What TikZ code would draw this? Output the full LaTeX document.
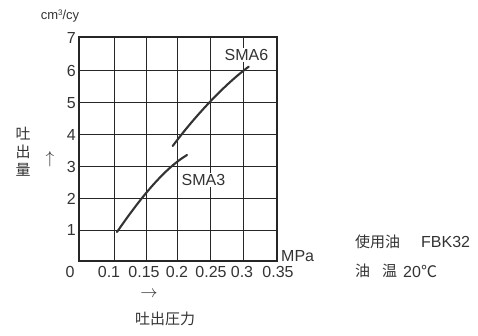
\documentclass[tikz,border=0pt]{standalone}
\usepackage{fontspec}
\setmainfont{Liberation Sans}
\newfontfamily\cjk{Noto Sans CJK JP}
\definecolor{ink}{HTML}{333333}
\begin{document}
\begin{tikzpicture}[x=1pt,y=-1pt,
  lbl/.style={font=\fontsize{16}{16}\selectfont, text=ink, inner sep=0pt},
  cjklbl/.style={font=\fontsize{15}{18}\selectfont\cjk, text=ink, inner sep=0pt},
  gridln/.style={draw=black!85, line width=0.9pt},
  curve/.style={draw=black!80, line width=2.1pt, line cap=round}]
\useasboundingbox (0,0) rectangle (478,335);
% grid
\foreach \x in {114,146,177,210,243}{\draw[gridln] (\x,37) -- (\x,261);}
\foreach \y in {70,102,134,166,198,230}{\draw[gridln] (79,\y) -- (277,\y);}
\draw[gridln, line width=1.1pt] (79,37) rectangle (277,261);
% y labels
\foreach \v/\y in {7/38,6/71,5/103,4/135,3/167,2/199,1/230}{
  \node[lbl, anchor=east] (y\v) at (76,\y) {\v};}
\node[lbl, font=\fontsize{13}{14}\selectfont] (unit) at (60,16) {cm\raisebox{0.5ex}{\fontsize{8}{8}\selectfont 3}/cy};
\node[cjklbl, align=center] (ylab) at (23,152) {吐\\出\\量};
\node[lbl] (yarrow) at (50,159) {$\uparrow$};
% x labels
\node[lbl] (x0) at (70,272) {0};
\foreach \t/\x [count=\i] in {0.1/109,0.15/144,0.2/177,0.25/211,0.3/242,0.35/278}{
  \node[lbl] (x\i) at (\x,272) {\t};}
\node[lbl, anchor=west] (mpa) at (281,256) {MPa};
\node[lbl] (xarrow) at (149,294) {$\rightarrow$};
\node[cjklbl] (xlab) at (165,319) {吐出圧力};
% curves
\draw[curve] (117,232) .. controls (137,203) and (162,170) .. (187,155);
\draw[curve] (172.7,146) .. controls (195,116) and (225,84) .. (248.7,66.7);
\node[lbl, fill=white, inner sep=1pt] (sma6) at (246.5,55) {SMA6};
\node[lbl, fill=white, inner sep=1pt] (sma3) at (203.5,180) {SMA3};
% notes
\node[cjklbl, anchor=west] (oil) at (355,242) {使用油};
\node[lbl, anchor=west] (fbk) at (421,242) {FBK32};
\node[cjklbl, anchor=west] (oil2) at (355,271) {油};
\node[cjklbl, anchor=west] (temp) at (382,271) {温};
\node[lbl, anchor=west] (t20) at (403,271) {20{\cjk ℃}};
\end{tikzpicture}
\end{document}
